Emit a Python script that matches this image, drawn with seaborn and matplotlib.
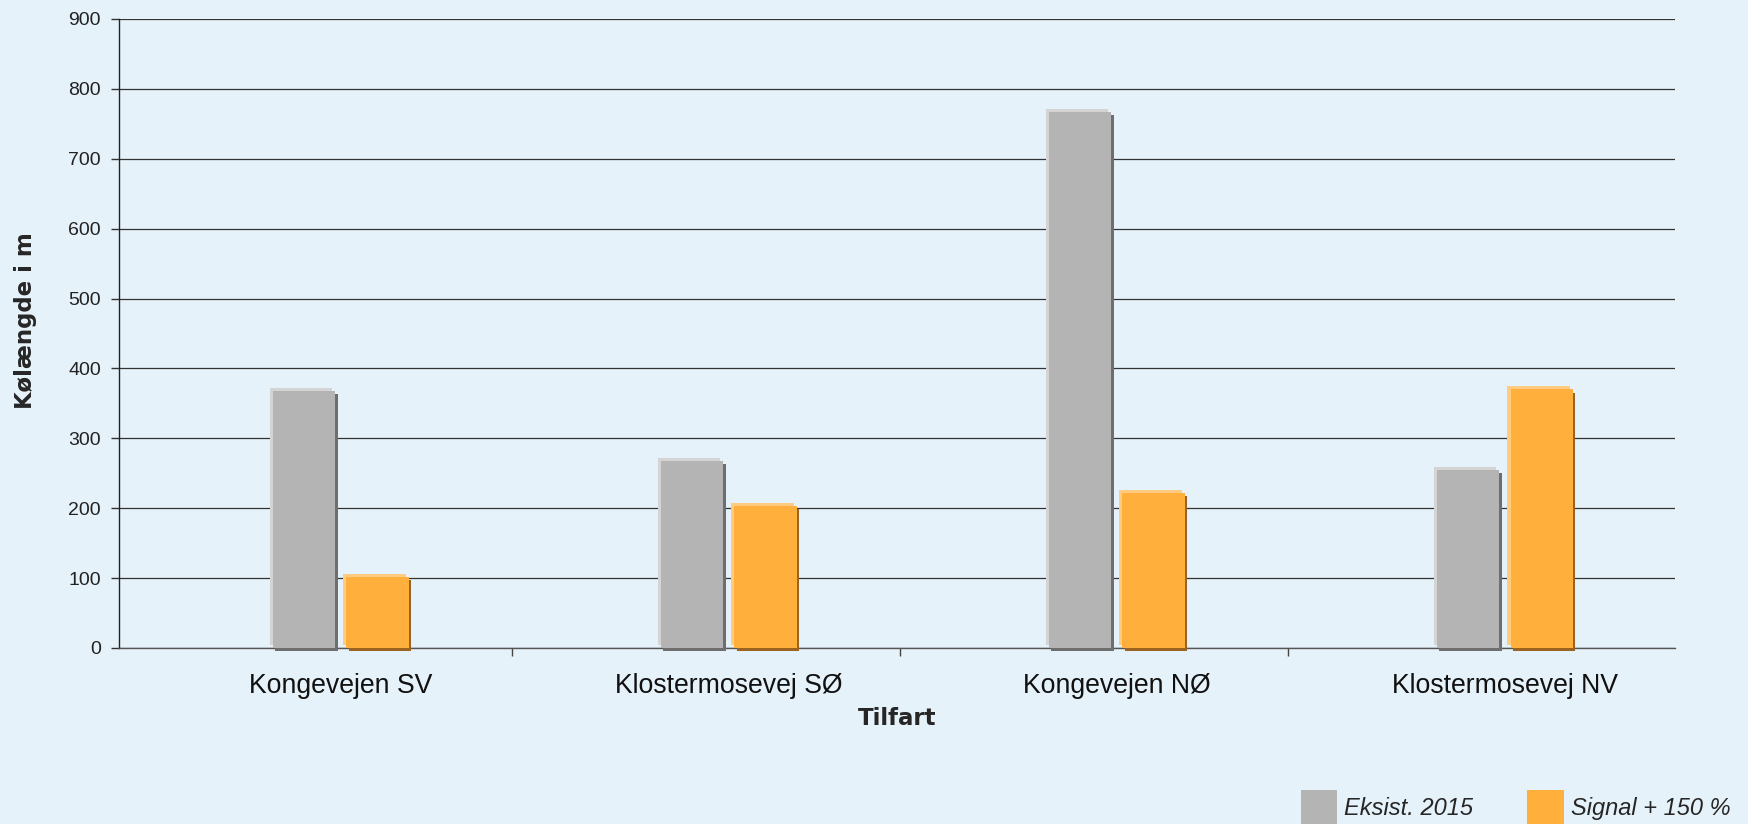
import matplotlib
matplotlib.use("Agg")
import matplotlib.pyplot as plt
import matplotlib.patheffects as pe
import numpy as np
import pandas as pd
import seaborn as sns

categories = ["Kongevejen SV", "Klostermosevej SØ", "Kongevejen NØ", "Klostermosevej NV"]
series = ["Eksist. 2015", "Signal + 150 %"]
eksist_2015 = [368, 268, 767, 255]
signal_150 = [102, 203, 222, 370]
yticks = [0, 100, 200, 300, 400, 500, 600, 700, 800, 900]

bg = "#E6F2F9"
colors = {"Eksist. 2015": "#B4B4B4", "Signal + 150 %": "#FFAF3C"}
light = {"Eksist. 2015": "#D4D4D4", "Signal + 150 %": "#FFCB80"}
dark = {"Eksist. 2015": "#6E6E6E", "Signal + 150 %": "#9A6420"}

df = pd.DataFrame({
    "Tilfart": categories * 2,
    "serie": [series[0]] * 4 + [series[1]] * 4,
    "value": eksist_2015 + signal_150,
})

sns.set_theme(style="white")
plt.rcParams["font.family"] = ["Liberation Sans", "DejaVu Sans"]

fig = plt.figure(figsize=(17.48, 8.24), dpi=100, facecolor=bg)
ax = fig.add_axes([0.068, 0.2136, 0.890, 0.7634])
ax.set_facecolor(bg)

sns.barplot(data=df, x="Tilfart", y="value", hue="serie", palette=colors,
            saturation=1, width=0.38, gap=0.15, ax=ax, legend=False, zorder=3,
            edgecolor="none", linewidth=0)

# faux 3D look: light edge up-left, dark shadow down-right
for container, name in zip(ax.containers, series):
    for bar in container:
        bar.set_clip_on(False)
        bar.set_path_effects([
            pe.SimplePatchShadow(offset=(1.6, -2.4), shadow_rgbFace=dark[name], alpha=1),
            pe.SimplePatchShadow(offset=(-2.2, 2.2), shadow_rgbFace=light[name], alpha=1),
            pe.Normal(),
        ])

ax.set_ylim(0, 900)
ax.set_yticks(yticks)
ax.set_xlim(-0.572, 3.437)
ax.yaxis.grid(True, color="#333333", linewidth=0.9)
ax.set_axisbelow(True)

for side in ["top", "right"]:
    ax.spines[side].set_visible(False)
ax.spines["left"].set_color("#222222")
ax.spines["bottom"].set_color("#555555")
ax.spines["left"].set_linewidth(1.0)
ax.spines["bottom"].set_linewidth(1.0)

ax.tick_params(axis="y", direction="out", length=6, width=1, color="#333333",
               labelsize=14, pad=7, left=True, labelcolor="#222222")
ax.tick_params(axis="x", which="major", length=0, labelsize=19.2, pad=18,
               labelcolor="#111111")
ax.set_xticks(np.arange(len(categories) - 1) + 0.44, minor=True)
ax.tick_params(axis="x", which="minor", direction="out", length=6, width=1,
               color="#444444", bottom=True)

ax.set_xlabel("Tilfart", fontsize=16.5, fontweight="bold", family="DejaVu Sans",
              labelpad=6)
ax.set_ylabel("Kølængde i m", fontsize=16.5, fontweight="bold", family="DejaVu Sans")
ax.yaxis.set_label_coords(-0.0528, 0.52)

handles = [plt.Rectangle((0, 0), 1, 1, facecolor=colors[s], edgecolor="none") for s in series]
leg = fig.legend(handles, series, loc="upper left", bbox_to_anchor=(0.744, 0.041),
                 ncol=2, frameon=False, prop={"style": "italic", "size": 17},
                 handlelength=1.55, handleheight=1.9, handletextpad=0.3,
                 columnspacing=2.3, borderpad=0, borderaxespad=0)

fig.savefig("out.png", dpi=100, facecolor=bg)
